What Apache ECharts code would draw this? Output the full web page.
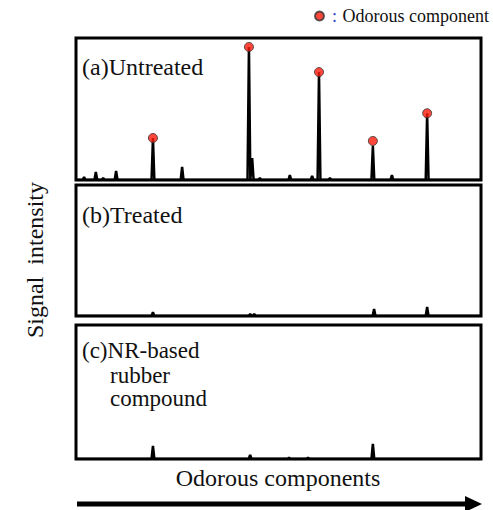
<!DOCTYPE html>
<html><head><meta charset="utf-8">
<script src="https://cdn.jsdelivr.net/npm/echarts@6/dist/echarts.min.js"></script>
<style>html,body{margin:0;padding:0;background:#fff}#c{width:493px;height:510px}</style>
</head><body><div id="c"></div>
<script>
// Retention position of each component (0-100 along the axis) and relative signal heights
const peakXA = [2.0, 4.9, 6.7, 9.9, 19.0, 26.2, 42.7, 43.5, 45.4, 52.8, 58.3, 60.0, 62.7, 73.3, 78.0, 86.7];
const peakHA = [2.1, 5.6, 1.4, 6.3, 29.6, 9.2, 93.7, 15.5, 1.4, 3.5, 2.8, 76.0, 1.4, 24.0, 3.5, 47.0];
const peakXB = [19.0, 43.0, 44.0, 73.6, 86.7];
const peakHB = [3.0, 1.5, 1.5, 5.3, 6.9];
const peakXC = [19.0, 43.0, 52.6, 57.3, 73.3];
const peakHC = [9.7, 3.0, 1.1, 1.1, 11.2];
const odorX = [19.0, 42.7, 60.0, 73.3, 86.7];
const odorY = [29.6, 93.7, 76.0, 27.5, 47.0];
const panelLabels = ['(a)Untreated', '(b)Treated', '(c)NR-based', 'rubber', 'compound'];

const FONT = 'Liberation Serif';
const HW = 0.35;
function spikes(xs, hs) {
  const pts = [[0, 0]];
  xs.forEach((x, i) => { pts.push([x - HW, 0], [x, hs[i]], [x + HW, 0]); });
  pts.push([100, 0]);
  return pts;
}
const grids = [
  {left: 76, top: 38, width: 405, height: 142},
  {left: 76, top: 185, width: 405, height: 131},
  {left: 76, top: 325, width: 405, height: 134}
];
const chart = echarts.init(document.getElementById('c'), null, {renderer: 'svg'});
const txt = (t, x, y, size, align, rot) => ({type: 'text', x: x, y: y, rotation: rot || 0,
  style: {text: t, fontFamily: FONT, fontSize: size, fill: '#111', align: align || 'left', verticalAlign: 'middle'}});
chart.setOption({
  animation: false,
  grid: grids.map(g => Object.assign({show: true, borderColor: '#000', borderWidth: 3, backgroundColor: '#fff'}, g)),
  xAxis: grids.map((g, i) => ({type: 'value', gridIndex: i, min: 0, max: 100, show: false})),
  yAxis: grids.map((g, i) => ({type: 'value', gridIndex: i, min: 0, max: 100, show: false})),
  legend: {
    left: 309, top: 2, itemWidth: 9, itemHeight: 9, itemGap: 5, icon: 'circle',
    data: ['Odorous component'],
    formatter: function (n) { return '{c|:} ' + n; },
    textStyle: {fontFamily: FONT, fontSize: 18, color: '#111',
      rich: {c: {color: '#3344cc', fontFamily: FONT, fontSize: 18, padding: [0, 1, 0, 3]}}}
  },
  series: [
    {type: 'line', xAxisIndex: 0, yAxisIndex: 0, data: spikes(peakXA, peakHA), symbol: 'none',
      lineStyle: {color: '#000', width: 2.5}, z: 3},
    {type: 'line', xAxisIndex: 1, yAxisIndex: 1, data: spikes(peakXB, peakHB), symbol: 'none',
      lineStyle: {color: '#000', width: 2.5}, z: 3},
    {type: 'line', xAxisIndex: 2, yAxisIndex: 2, data: spikes(peakXC, peakHC), symbol: 'none',
      lineStyle: {color: '#000', width: 2.5}, z: 3},
    {type: 'scatter', name: 'Odorous component', xAxisIndex: 0, yAxisIndex: 0,
      data: odorX.map((x, i) => [x, odorY[i]]), symbolSize: 9,
      itemStyle: {color: '#ff1a0a', borderColor: '#333', borderWidth: 1}, z: 5}
  ],
  graphic: [
    txt(panelLabels[0], 82, 67, 24),
    txt(panelLabels[1], 82, 215, 24),
    txt(panelLabels[2], 82, 350, 23),
    txt(panelLabels[3], 110, 375, 23),
    txt(panelLabels[4], 110, 398, 23),
    txt('Signal  intensity', 35, 260, 24, 'center', Math.PI / 2),
    txt('Odorous components', 278, 478, 24, 'center'),
    {type: 'rect', shape: {x: 77, y: 501.5, width: 390, height: 5}, style: {fill: '#000'}},
    {type: 'polygon', shape: {points: [[465, 496], [482, 504], [465, 512]]}, style: {fill: '#000'}}
  ]
});
</script></body></html>
